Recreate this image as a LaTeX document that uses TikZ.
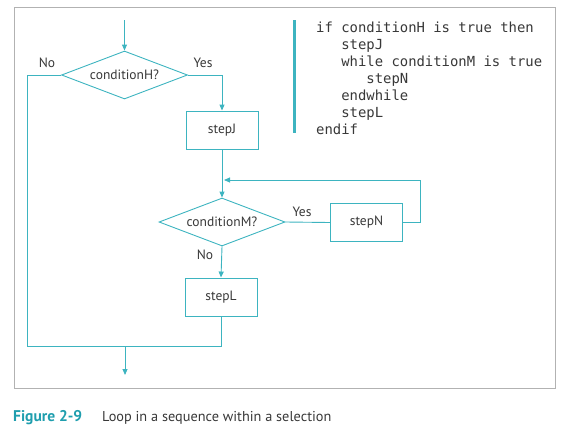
\documentclass[tikz,border=0pt]{standalone}
\usepackage{fontspec}
\setmainfont{PT Sans}
\newfontfamily\codefont{DejaVu Sans Mono}
\usetikzlibrary{shapes.geometric, arrows.meta}

\definecolor{flowteal}{HTML}{3DB4C0}
\definecolor{figteal}{HTML}{1F9EAE}
\definecolor{inkgray}{HTML}{383838}

\begin{document}
\begin{tikzpicture}[x=1pt, y=-1pt,
  flow/.style={draw=flowteal, line width=0.9pt},
  tip/.style={-{Triangle[length=6pt, width=5pt]}},
  decision/.style={diamond, aspect=2.6, flow, inner sep=0pt, minimum width=126pt, minimum height=48pt, font=\fontsize{13.5}{15}\selectfont, text=inkgray},
  process/.style={rectangle, flow, inner sep=0pt, minimum width=72pt, minimum height=38pt, font=\fontsize{13.5}{15}\selectfont, text=inkgray},
  answer/.style={inner sep=0pt, font=\fontsize{13.5}{15}\selectfont, text=inkgray}]
\useasboundingbox (0, 0) rectangle (569, 439);
\draw[black!30, line width=0.8pt] (14, 7) rectangle (555, 388);

% flowchart
\node[decision] (condH) at (124.5, 75) {conditionH?};
\node[process] (stepJ) at (222, 130) {stepJ};
\node[decision] (condM) at (222, 222) {conditionM?};
\node[process] (stepN) at (366.5, 222.5) {stepN};
\node[process] (stepL) at (221, 297) {stepL};

\node[answer] (noH) at (47, 63) {No};
\node[answer] (yesH) at (203, 63) {Yes};
\node[answer] (yesM) at (302, 212) {Yes};
\node[answer] (noM) at (205, 255) {No};

\coordinate (start) at (124.5, 20);
\coordinate (loopin) at (222, 180);
\coordinate (joinL) at (27, 346);
\coordinate (exit) at (125, 346);
\coordinate (finish) at (125, 375);

\draw[flow, tip] (start) -- (condH.north);
\draw[flow, tip] (condH.east) -| (stepJ.north);
\draw[flow, tip] (stepJ.south) -- (condM.north);
\draw[flow] (condM.east) -- (stepN.west);
\draw[flow, tip, shorten >=2pt] (stepN.east) -- ++(17, 0) |- (loopin);
\draw[flow, tip] (condM.south) -- (stepL.north);
\draw[flow] (condH.west) -| (joinL) -- (stepL.south |- joinL) -- (stepL.south);
\draw[flow, tip] (exit) -- (finish);

% pseudocode
\draw[flowteal, line width=3pt] (294, 20) -- (294, 133);
\node[anchor=north west, inner sep=0pt, align=left, text=inkgray,
  font=\codefont\fontsize{13.9}{17}\selectfont] (code) at (316, 22)
  {if conditionH is true then\\
   \phantom{xxx}stepJ\\
   \phantom{xxx}while conditionM is true\\
   \phantom{xxxxxx}stepN\\
   \phantom{xxx}endwhile\\
   \phantom{xxx}stepL\\
   endif};

% caption
\node[anchor=west, inner sep=0pt, text=figteal, font=\bfseries\fontsize{15.5}{17}\selectfont] (figno) at (13, 418) {Figure 2-9};
\node[anchor=west, inner sep=0pt, text=inkgray, font=\fontsize{14.3}{16}\selectfont] (figtitle) at (102, 418) {Loop in a sequence within a selection};
\end{tikzpicture}
\end{document}
